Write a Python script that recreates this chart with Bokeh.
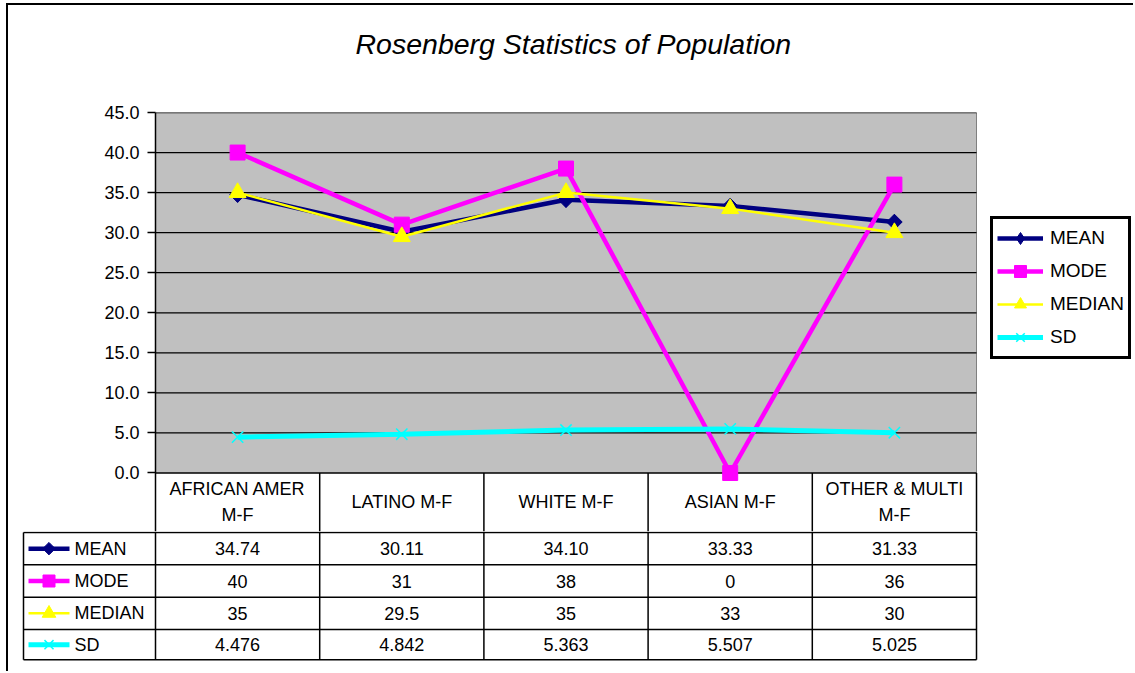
import numpy as np
from bokeh.plotting import figure
from bokeh.models import Range1d, FixedTicker, PrintfTickFormatter, Legend, LegendItem, Title
from bokeh.layouts import column
from bokeh.embed import file_html
from bokeh.resources import INLINE
from bokeh.core.properties import value

# ---------------- data ----------------
categories = ["AFRICAN AMER M-F", "LATINO M-F", "WHITE M-F", "ASIAN M-F", "OTHER & MULTI M-F"]
header_labels = ["AFRICAN AMER\nM-F", "LATINO M-F", "WHITE M-F", "ASIAN M-F", "OTHER & MULTI\nM-F"]
series_names = ["MEAN", "MODE", "MEDIAN", "SD"]
mean = [34.74, 30.11, 34.10, 33.33, 31.33]
mode = [40, 31, 38, 0, 36]
median = [35, 29.5, 35, 33, 30]
sd = [4.476, 4.842, 5.363, 5.507, 5.025]
y_ticks = [0, 5, 10, 15, 20, 25, 30, 35, 40, 45]
title_text = "Rosenberg Statistics of Population"

series_values = {"MEAN": mean, "MODE": mode, "MEDIAN": median, "SD": sd}
series_fmt = {"MEAN": "{:.2f}", "MODE": "{:g}", "MEDIAN": "{:g}", "SD": "{:.3f}"}

# ---------------- styles / geometry ----------------
FONT = "Liberation Sans"
FS = "18px"
styles = {
    "MEAN":   dict(color="#000080", lw=4.5, marker="square", size=11, angle=np.pi / 4, mlw=1,
                   key_marker="diamond"),
    "MODE":   dict(color="#FF00FF", lw=4.5, marker="square", size=15, angle=0.0, mlw=1,
                   key_marker=None),
    "MEDIAN": dict(color="#FFFF00", lw=2.5, marker="triangle", size=17, angle=0.0, mlw=1,
                   key_marker=None),
    "SD":     dict(color="#00FFFF", lw=5, marker="x", size=16, angle=0.0, mlw=1.5,
                   key_marker=None),
}

W = 1125          # figure width
H1 = 526          # chart figure height
H2 = 140          # table figure height
LEFT = 147        # frame left offset in chart figure
TOP = 107         # frame top offset in chart figure
PX_X = 164.2      # pixels per category column
PX_Y = 8.011      # pixels per value unit

n = len(categories)
xs = np.arange(n) + 0.5
ymax = max(y_ticks)
y_start = ymax - (H1 - TOP) / PX_Y
y_zero_px = TOP + ymax * PX_Y   # pixel row of value 0 inside chart figure

# ---------------- chart figure ----------------
p = figure(width=W, height=H1,
           x_range=Range1d(0, (W - LEFT) / PX_X),
           y_range=Range1d(y_start, ymax),
           output_backend="svg", toolbar_location=None,
           x_axis_location=None, title=None,
           min_border_left=LEFT, min_border_right=0,
           min_border_top=TOP, min_border_bottom=0,
           outline_line_color=None,
           background_fill_color="white", border_fill_color="white")
p.grid.visible = False
p.frame_align = False

# spacer (nearest the frame) then the real title above it
p.add_layout(Title(text=" ", text_font_size="2px", standoff=44), "above")
p.add_layout(Title(text=title_text, text_font=FONT, text_font_size="28.5px",
                   text_font_style="italic", text_color="black",
                   align="left", offset=200, standoff=10), "above")

ax = p.yaxis[0]
ax.ticker = FixedTicker(ticks=y_ticks)
ax.formatter = PrintfTickFormatter(format="%.1f")
ax.major_tick_out = 8
ax.major_tick_in = 0
ax.minor_tick_out = 0
ax.minor_tick_in = 0
ax.axis_line_color = "black"
ax.axis_line_width = 1.5
ax.major_tick_line_color = "black"
ax.major_tick_line_width = 1.5
ax.major_label_text_font = FONT
ax.major_label_text_font_size = FS
ax.major_label_text_color = "black"
ax.major_label_standoff = 8

# plot area
p.quad(left=0, right=n, bottom=0, top=ymax, fill_color="#C0C0C0", line_color=None)
p.segment(x0=n, x1=n, y0=0, y1=ymax, line_color="#808080", line_width=1)
grid_vals = [t for t in y_ticks if t > 0]
p.segment(x0=[0] * len(grid_vals), x1=[n] * len(grid_vals), y0=grid_vals, y1=grid_vals,
          line_color="black", line_width=1.3)
p.segment(x0=0, x1=n, y0=0, y1=0, line_color="black", line_width=1.6)

# header row of data table (category labels)
cols = list(range(1, n + 1))
p.segment(x0=cols, x1=cols, y0=[0] * n, y1=[y_start] * n, line_color="black", line_width=1.5)
header_mid = -((H1 - y_zero_px) / 2) / PX_Y
p.text(x=xs, y=[header_mid] * n, text=header_labels,
       text_align="center", text_baseline="middle", text_font=value(FONT),
       text_font_size=FS, text_color="black", text_line_height=1.3)

items = []
for name in series_names:
    st = styles[name]
    vals = series_values[name]
    lr = p.line(xs, vals, line_color=st["color"], line_width=st["lw"])
    kr = None
    if st["key_marker"]:
        # diamond layer (hidden under the rotated squares) used for the legend key
        kr = p.scatter(xs, vals, marker=st["key_marker"], size=st["size"] * 1.35,
                       fill_color=st["color"], line_color=st["color"], line_width=st["mlw"])
    sr = p.scatter(xs, vals, marker=st["marker"], size=st["size"], angle=st["angle"],
                   fill_color=st["color"], line_color=st["color"], line_width=st["mlw"])
    items.append(LegendItem(label=name, renderers=[lr, kr if kr is not None else sr]))

legend = Legend(items=items, location=(835, 172),
                border_line_color="black", border_line_width=3, border_line_alpha=1,
                background_fill_color="white", background_fill_alpha=1,
                label_text_font=FONT, label_text_font_size="19px", label_text_color="black",
                glyph_width=46, glyph_height=30, label_height=30,
                spacing=3, padding=4, label_standoff=7, margin=0)
p.add_layout(legend)

# ---------------- data table figure ----------------
x_left_col = -132 / PX_X
t = figure(width=W, height=H2,
           x_range=Range1d(-LEFT / PX_X, (W - LEFT) / PX_X),
           y_range=Range1d(H2, 0),
           output_backend="svg", toolbar_location=None,
           x_axis_location=None, y_axis_location=None,
           min_border_left=0, min_border_right=0, min_border_top=0, min_border_bottom=0,
           outline_line_color=None,
           background_fill_color="white", border_fill_color="white")
t.grid.visible = False
t.frame_align = False

edges = [1, 33.3, 65.7, 98, 128.3]
m = len(edges)
t.segment(x0=[x_left_col] * m, x1=[n] * m, y0=edges, y1=edges, line_color="black", line_width=1.5)
t.segment(x0=x_left_col, x1=x_left_col, y0=edges[0], y1=edges[-1], line_color="black", line_width=1.5)
vx = list(range(0, n + 1))
t.segment(x0=vx, x1=vx, y0=[0] * len(vx), y1=[edges[-1]] * len(vx), line_color="black", line_width=1.5)

key_x0 = -127 / PX_X
key_x1 = -86 / PX_X
label_x = -81 / PX_X
for i, name in enumerate(series_names):
    st = styles[name]
    yc = (edges[i] + edges[i + 1]) / 2
    t.segment(x0=key_x0, x1=key_x1, y0=yc, y1=yc, line_color=st["color"], line_width=st["lw"])
    t.scatter([(key_x0 + key_x1) / 2], [yc], marker=st["marker"], size=st["size"] * 0.8,
              angle=st["angle"], fill_color=st["color"], line_color=st["color"],
              line_width=st["mlw"])
    t.text(x=[label_x], y=[yc], text=[name], text_align="left", text_baseline="middle",
           text_font=value(FONT), text_font_size=FS, text_color="black")
    labels = [series_fmt[name].format(v) for v in series_values[name]]
    t.text(x=xs, y=[yc] * n, text=labels, text_align="center", text_baseline="middle",
           text_font=value(FONT), text_font_size=FS, text_color="black")

layout = column(p, t, spacing=0,
                styles={"border-left": "2px solid black", "border-top": "2px solid black",
                        "margin-left": "6px", "margin-top": "3px"})

open("out.html", "w").write(file_html(layout, INLINE))
